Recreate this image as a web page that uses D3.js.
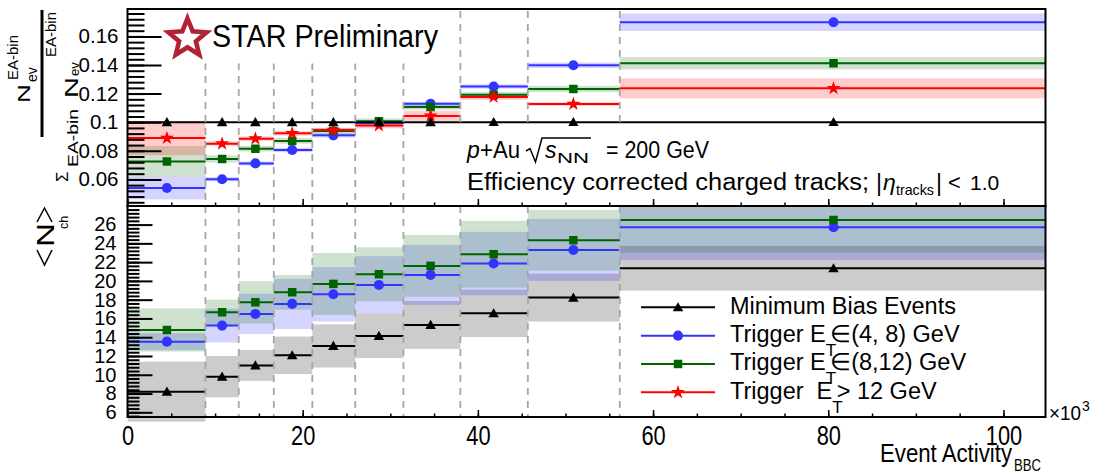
<!DOCTYPE html>
<html>
<head>
<meta charset="utf-8">
<script src="https://cdn.jsdelivr.net/npm/d3@7"></script>
<style>
html,body{margin:0;padding:0;background:#fff;}
svg{display:block;}
text{font-family:"Liberation Sans",Arial,sans-serif;}
</style>
</head>
<body>
<svg id="chart" width="1094" height="475"></svg>
<script>
// ---------------- data ----------------
const binEdges = [0, 8.9, 12.7, 16.7, 21.1, 26.0, 31.5, 38.0, 45.7, 56.2, 105];
const binMeans = [4.5, 10.8, 14.6, 18.8, 23.5, 28.7, 34.6, 41.8, 50.9, 80.6];

// top panel: fraction of events in each EA bin
const fracMB      = [0.1, 0.1, 0.1, 0.1, 0.1, 0.1, 0.1, 0.1, 0.1, 0.1];
const fracLow     = [0.0540, 0.0601, 0.0712, 0.0806, 0.0908, 0.0995, 0.1129, 0.1250, 0.1398, 0.1699];
const fracLowErr  = [0.0080, 0.0015, 0.0015, 0.0015, 0.0015, 0.0015, 0.0015, 0.0015, 0.0019, 0.0061];
const fracMid     = [0.0726, 0.0743, 0.0815, 0.0869, 0.0938, 0.1007, 0.1107, 0.1192, 0.1232, 0.1412];
const fracMidErr  = [0.0107, 0.0025, 0.0020, 0.0020, 0.0020, 0.0020, 0.0020, 0.0020, 0.0022, 0.0043];
const fracHigh    = [0.0889, 0.0850, 0.0885, 0.0922, 0.0945, 0.0977, 0.1044, 0.1176, 0.1127, 0.1237];
const fracHighErr = [0.0120, 0.0015, 0.0015, 0.0015, 0.0015, 0.0020, 0.0035, 0.0020, 0.0012, 0.0070];

// bottom panel: <N_ch>
const nchMB     = [8.2, 9.8, 11.0, 12.07, 13.07, 14.14, 15.31, 16.55, 18.22, 21.35];
const nchMBErr  = [3.2, 2.2, 1.65, 2.0, 2.3, 2.36, 2.56, 2.53, 2.55, 2.38];
const nchLow    = [13.53, 15.24, 16.48, 17.55, 18.58, 19.57, 20.64, 21.85, 23.3, 25.72];
const nchLowErr = [0.9, 1.8, 2.15, 2.67, 2.9, 3.07, 3.2, 3.38, 3.3, 3.5];
const nchMid    = [14.77, 16.66, 17.72, 18.79, 19.68, 20.71, 21.6, 22.84, 24.33, 26.5];
const nchMidErr = [2.3, 1.35, 2.25, 1.85, 3.3, 2.88, 3.3, 3.56, 3.24, 3.5];

// ticks
const fracTicks = [0.06, 0.08, 0.1, 0.12, 0.14, 0.16];
const fracTickLabels = ["0.06", "0.08", "0.1", "0.12", "0.14", "0.16"];
const nchTicks = [6, 8, 10, 12, 14, 16, 18, 20, 22, 24, 26];
const eaTicks = [0, 20, 40, 60, 80, 100];
const eaTickLabels = ["0", "20", "40", "60", "80", "100"];

// legend
const legendPre  = ["Minimum Bias Events", "Trigger E", "Trigger E", "Trigger\u00A0 E"];
const legendSub  = ["", "T", "T", "T"];
const legendPost = ["", "\u2208(4, 8) GeV", "\u2208(8,12) GeV", "> 12 GeV"];

// ---------------- layout ----------------
const X0 = 127.5, X1 = 1045.5, YT0 = 9, YMID = 206, YB1 = 417;
const x = d3.scaleLinear().domain([0, 104.8]).range([X0, X1]);
const yTop = d3.scaleLinear().domain([0.0414, 0.17916]).range([YMID, YT0]);
const yBot = d3.scaleLinear().domain([5.5, 27.98]).range([YB1, YMID]);

const COL = {mb: "#000000", low: "#3333ff", mid: "#006400", high: "#ff0000"};
const BAND = {mb: "rgba(0,0,0,0.2)", low: "rgba(0,0,255,0.17)", mid: "rgba(0,100,0,0.19)", high: "rgba(255,0,0,0.2)"};
const SYM = {mb: d3.symbolTriangle, low: d3.symbolCircle, mid: d3.symbolSquare, high: d3.symbolStar};
const SYMSIZE = {mb: 48, low: 80, mid: 72, high: 62};

const svg = d3.select("#chart");
const defs = svg.append("defs");
defs.append("clipPath").attr("id", "clipTop").append("rect")
  .attr("x", X0).attr("y", YT0).attr("width", X1 - X0).attr("height", YMID - YT0);
defs.append("clipPath").attr("id", "clipBot").append("rect")
  .attr("x", X0).attr("y", YMID).attr("width", X1 - X0).attr("height", 422 - YMID);

const topG = svg.append("g").attr("clip-path", "url(#clipTop)");
const botG = svg.append("g").attr("clip-path", "url(#clipBot)");

const idx = d3.range(binMeans.length);

function bands(g, y, vals, errs, key) {
  g.append("g").selectAll("rect").data(idx).join("rect")
    .attr("x", i => x(binEdges[i]))
    .attr("width", i => x(binEdges[i + 1]) - x(binEdges[i]))
    .attr("y", i => y(vals[i] + errs[i]))
    .attr("height", i => y(vals[i] - errs[i]) - y(vals[i] + errs[i]))
    .attr("fill", BAND[key]);
}
function lines(g, y, vals, key) {
  g.append("g").selectAll("line").data(idx).join("line")
    .attr("x1", i => x(binEdges[i])).attr("x2", i => x(binEdges[i + 1]))
    .attr("y1", i => y(vals[i])).attr("y2", i => y(vals[i]))
    .attr("stroke", COL[key]).attr("stroke-width", 2);
}
function markers(g, y, vals, key) {
  const p = d3.symbol().type(SYM[key]).size(SYMSIZE[key])();
  g.append("g").selectAll("path").data(idx).join("path")
    .attr("d", p)
    .attr("transform", i => `translate(${x(binMeans[i])},${y(vals[i]) + (key === "mb" ? 1 : 0)})`)
    .attr("fill", COL[key]);
}

// bands
bands(topG, yTop, fracLow, fracLowErr, "low");
bands(topG, yTop, fracMid, fracMidErr, "mid");
bands(topG, yTop, fracHigh, fracHighErr, "high");
bands(botG, yBot, nchMB, nchMBErr, "mb");
bands(botG, yBot, nchLow, nchLowErr, "low");
bands(botG, yBot, nchMid, nchMidErr, "mid");

// dashed bin separators
svg.append("g").selectAll("line").data(binEdges.slice(1, -1)).join("line")
  .attr("x1", d => x(d)).attr("x2", d => x(d))
  .attr("y1", YT0 + 2).attr("y2", YB1)
  .attr("stroke", "#a6a6a6").attr("stroke-width", 1.8).attr("stroke-dasharray", "7,6");

// lines + markers top
lines(topG, yTop, fracLow, "low");
lines(topG, yTop, fracMid, "mid");
lines(topG, yTop, fracHigh, "high");
lines(topG, yTop, fracMB, "mb");
markers(topG, yTop, fracLow, "low");
markers(topG, yTop, fracMid, "mid");
markers(topG, yTop, fracHigh, "high");
markers(topG, yTop, fracMB, "mb");
// lines + markers bottom
lines(botG, yBot, nchMB, "mb");
lines(botG, yBot, nchLow, "low");
lines(botG, yBot, nchMid, "mid");
markers(botG, yBot, nchMB, "mb");
markers(botG, yBot, nchLow, "low");
markers(botG, yBot, nchMid, "mid");

// white label boxes
svg.append("rect").attr("x", X0 + 1.5).attr("y", YT0 + 1.5).attr("width", 326).attr("height", 53).attr("fill", "#fff");
svg.append("rect").attr("x", 456).attr("y", 126).attr("width", X1 - 456 - 1).attr("height", YMID - 126).attr("fill", "#fff");

// STAR Preliminary
function starPath(cx, cy, R, r) {
  const pts = [];
  for (let k = 0; k < 10; k++) {
    const a = -Math.PI / 2 + k * Math.PI / 5;
    const rr = k % 2 === 0 ? R : r;
    pts.push([cx + rr * Math.cos(a), cy + rr * Math.sin(a)]);
  }
  return "M" + pts.map(p => p.join(",")).join("L") + "Z";
}
svg.append("path").attr("d", starPath(187.5, 38.5, 20, 8.8))
  .attr("fill", "#fff").attr("stroke", "#b22234").attr("stroke-width", 4.6).attr("stroke-linejoin", "miter");
svg.append("text").attr("x", 212).attr("y", 47).attr("font-family", "Lato, 'Open Sans', sans-serif")
  .attr("font-size", 31).attr("textLength", 226).attr("lengthAdjust", "spacingAndGlyphs").text("STAR Preliminary");

// p+Au text
const serif = "'DejaVu Serif', 'Liberation Serif', serif";
const sans2 = "Lato, 'Open Sans', sans-serif";
svg.append("text").attr("x", 467).attr("y", 158).attr("font-family", serif).attr("font-style", "italic").attr("font-size", 23).text("p");
svg.append("text").attr("x", 480).attr("y", 158).attr("font-family", sans2).attr("font-size", 24).attr("textLength", 40).attr("lengthAdjust", "spacingAndGlyphs").text("+Au");
svg.append("path").attr("d", "M526,151 L530,148.5 L535.5,162 L542,138 L591,138").attr("fill", "none").attr("stroke", "#000").attr("stroke-width", 1.5);
svg.append("text").attr("x", 545).attr("y", 158).attr("font-family", serif).attr("font-style", "italic").attr("font-size", 23).text("s");
svg.append("text").attr("x", 557).attr("y", 163).attr("font-family", serif).attr("font-size", 15).attr("textLength", 32).attr("lengthAdjust", "spacingAndGlyphs").text("NN");
svg.append("text").attr("x", 606).attr("y", 158).attr("font-family", serif).attr("font-size", 23).attr("textLength", 103).attr("lengthAdjust", "spacingAndGlyphs").text("= 200 GeV");

svg.append("text").attr("x", 467).attr("y", 190).attr("font-family", sans2).attr("font-size", 23).attr("textLength", 402).attr("lengthAdjust", "spacingAndGlyphs").text("Efficiency corrected charged tracks;");
svg.append("text").attr("x", 876).attr("y", 191).attr("font-family", serif).attr("font-size", 23).text("|");
svg.append("text").attr("x", 883).attr("y", 190).attr("font-family", serif).attr("font-style", "italic").attr("font-size", 23).text("\u03B7");
svg.append("text").attr("x", 896).attr("y", 195).attr("font-family", serif).attr("font-size", 15).attr("textLength", 38).attr("lengthAdjust", "spacingAndGlyphs").text("tracks");
svg.append("text").attr("x", 936).attr("y", 191).attr("font-family", serif).attr("font-size", 23).text("|");
svg.append("text").attr("x", 948).attr("y", 190).attr("font-family", serif).attr("font-size", 22).text("<");
svg.append("text").attr("x", 970).attr("y", 190).attr("font-family", serif).attr("font-size", 21).text("1.0");

// legend
const leg = svg.append("g");
leg.append("rect").attr("x", 622).attr("y", 292).attr("width", X1 - 622 - 1).attr("height", YB1 - 292 - 1).attr("fill", "#fff");
const legKeys = ["mb", "low", "mid", "high"];
const legRowY = d3.scaleLinear().domain([0, 3]).range([307.3, 392.3]);
legKeys.forEach((k, i) => {
  const yy = legRowY(i);
  leg.append("line").attr("x1", 641).attr("x2", 715).attr("y1", yy).attr("y2", yy).attr("stroke", COL[k]).attr("stroke-width", 2);
  leg.append("path").attr("d", d3.symbol().type(SYM[k]).size(SYMSIZE[k])()).attr("transform", `translate(678,${yy + (k === "mb" ? 1 : 0)})`).attr("fill", COL[k]);
  const t = leg.append("text").attr("x", 730).attr("y", yy + 6.5).attr("font-size", 23.5).style("white-space", "pre");
  t.append("tspan").text(legendPre[i]);
  if (legendSub[i]) {
    t.append("tspan").attr("font-size", 17).attr("dy", 14).attr("dx", 0).text(legendSub[i]);
    t.append("tspan").attr("dy", -14).attr("dx", -6).text(legendPost[i]);
  }
});

// ---------------- axes ----------------
function styleAxis(g, w) {
  g.select(".domain").remove();
  g.selectAll("line").attr("stroke", "#000").attr("stroke-width", w);
}
// top y axis
const topMinor = d3.range(11, 45).map(k => +(k * 0.004).toFixed(4));
svg.append("g").attr("transform", `translate(${X0},0)`)
  .call(d3.axisLeft(yTop).tickValues(topMinor).tickSize(-17).tickFormat(""))
  .call(g => styleAxis(g, 2));
svg.append("g").attr("transform", `translate(${X0},0)`)
  .call(d3.axisLeft(yTop).tickValues(fracTicks).tickSize(-34).tickPadding(9).tickFormat((d, i) => fracTickLabels[i]))
  .call(g => styleAxis(g, 2))
  .call(g => g.selectAll("text").attr("font-family", "'Liberation Sans', Arial, sans-serif").attr("font-size", 20.5).attr("fill", "#000"));
// bottom y axis
const botMinor = d3.range(14, 70).map(k => +(k * 0.4).toFixed(2));
svg.append("g").attr("transform", `translate(${X0},0)`)
  .call(d3.axisLeft(yBot).tickValues(botMinor).tickSize(-12).tickFormat(""))
  .call(g => styleAxis(g, 2));
svg.append("g").attr("transform", `translate(${X0},0)`)
  .call(d3.axisLeft(yBot).tickValues(nchTicks).tickSize(-25).tickPadding(11).tickFormat(d3.format("d")))
  .call(g => styleAxis(g, 2))
  .call(g => g.selectAll("text").attr("font-family", "'Liberation Sans', Arial, sans-serif").attr("font-size", 20).attr("fill", "#000"));
// x axes
const xMinor = d3.range(1, 21).map(k => k * 5);
[YMID, YB1].forEach(yy => {
  svg.append("g").attr("transform", `translate(0,${yy})`)
    .call(d3.axisBottom(x).tickValues(xMinor).tickSize(-3.5).tickFormat(""))
    .call(g => styleAxis(g, 1.5));
});
svg.append("g").attr("transform", `translate(0,${YMID})`)
  .call(d3.axisBottom(x).tickValues(eaTicks).tickSize(-7).tickFormat(""))
  .call(g => styleAxis(g, 1.5));
svg.append("g").attr("transform", `translate(0,${YB1})`)
  .call(d3.axisBottom(x).tickValues(eaTicks).tickSize(-7).tickPadding(8).tickFormat((d, i) => eaTickLabels[i]))
  .call(g => styleAxis(g, 1.5))
  .call(g => g.selectAll("text").attr("font-family", "'Liberation Sans', Arial, sans-serif").attr("font-size", 28).attr("fill", "#000")
      .attr("transform", "scale(0.78,1)"));

// frames
const frame = svg.append("g").attr("fill", "none").attr("stroke", "#000").attr("stroke-width", 2);
frame.append("rect").attr("x", X0).attr("y", YT0).attr("width", X1 - X0).attr("height", YMID - YT0);
frame.append("rect").attr("x", X0).attr("y", YMID).attr("width", X1 - X0).attr("height", YB1 - YMID);

// x axis title & exponent
svg.append("text").attr("x", 880).attr("y", 462).attr("font-size", 25).attr("textLength", 132).attr("lengthAdjust", "spacingAndGlyphs").text("Event Activity");
svg.append("text").attr("x", 1014).attr("y", 471).attr("font-size", 16).attr("textLength", 27).attr("lengthAdjust", "spacingAndGlyphs").text("BBC");
svg.append("text").attr("x", 1049).attr("y", 420).attr("font-size", 20).attr("textLength", 32).attr("lengthAdjust", "spacingAndGlyphs").text("\u00D710");
svg.append("text").attr("x", 1082).attr("y", 411).attr("font-size", 14).text("3");

// ---------------- y titles (rotated) ----------------
function rtext(px, py, str, size, extra) {
  return svg.append("text").attr("transform", `translate(${px},${py}) rotate(-90)` + (extra || ""))
    .attr("font-size", size).text(str);
}
// numerator
rtext(30, 103, "N", 26, " scale(1,0.66)");
rtext(37, 82, "ev", 14);
rtext(18, 80, "EA-bin", 15);
// fraction bar
svg.append("line").attr("x1", 42).attr("x2", 42).attr("y1", 10).attr("y2", 137).attr("stroke", "#000").attr("stroke-width", 3);
// denominator
rtext(67.5, 182, "\u03A3", 17);
rtext(77.5, 167, "EA-bin", 15).attr("textLength", 58).attr("lengthAdjust", "spacingAndGlyphs");
rtext(77.5, 98, "N", 26, " scale(1,0.7)").attr("textLength", 21).attr("lengthAdjust", "spacingAndGlyphs");
rtext(79, 76, "ev", 13);
rtext(55.5, 57, "EA-bin", 15);

// <N_ch>
svg.append("path").attr("d", "M37,250 L44.5,265 L52,250").attr("fill", "none").attr("stroke", "#000").attr("stroke-width", 1.5);
svg.append("path").attr("d", "M37,222 L44.5,208 L52,222").attr("fill", "none").attr("stroke", "#000").attr("stroke-width", 1.5);
rtext(53.5, 247, "N", 23).attr("textLength", 24).attr("lengthAdjust", "spacingAndGlyphs");
rtext(68, 229, "ch", 12.5);
</script>
</body>
</html>
